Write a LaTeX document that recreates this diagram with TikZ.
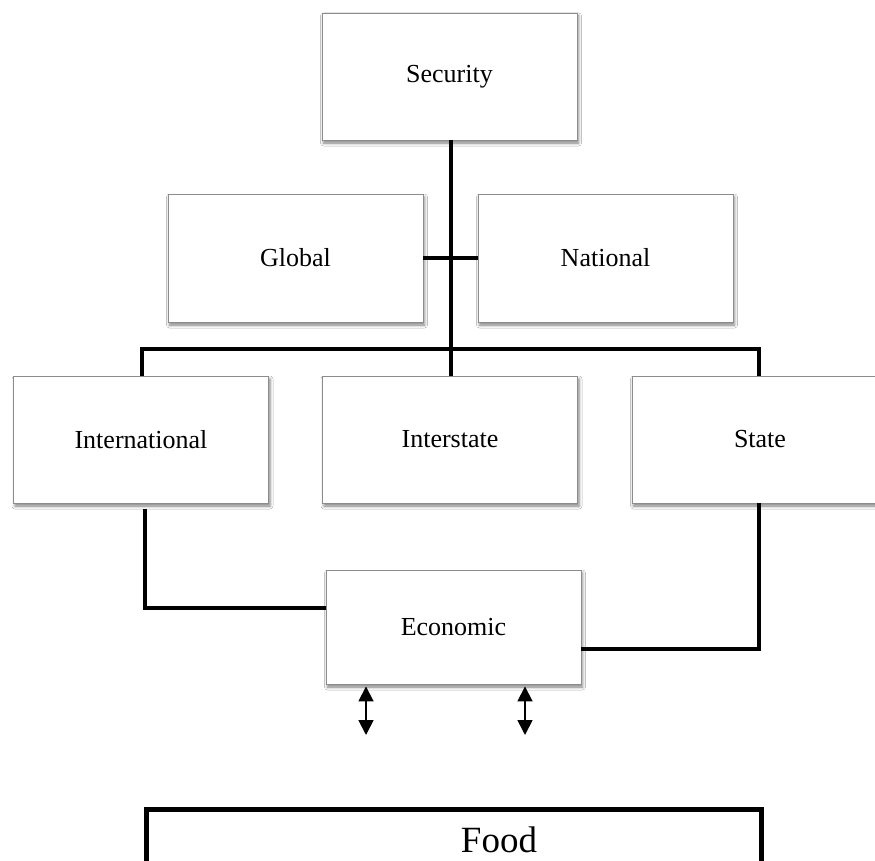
\documentclass[tikz,border=0pt]{standalone}
\usepackage{fontspec}
\setmainfont{Liberation Serif}
\usetikzlibrary{arrows.meta,shadows.blur}
\begin{document}
\begin{tikzpicture}[x=1pt,y=-1pt,
  box/.style={draw=black!45, line width=0.9pt, fill=white, rectangle, inner sep=0pt,
    minimum width=255pt, minimum height=127pt,
    font=\fontsize{26}{30}\selectfont,
    blur shadow={shadow xshift=1.5pt, shadow yshift=-3pt, shadow blur radius=3pt, shadow opacity=50}},
  conn/.style={draw=black, line width=4.5pt, line join=miter},
  dbl/.style={draw=black, line width=1.8pt, {Triangle[width=15pt,length=15pt]}-{Triangle[width=15pt,length=15pt]}},
  foodbox/.style={draw=black, line width=5pt, rectangle, inner sep=0pt, minimum width=615pt, minimum height=150pt},
  bigtext/.style={font=\fontsize{37}{42}\selectfont, inner sep=0pt}
]
\path[use as bounding box, clip] (0,0) rectangle (875,861);
\fill[white] (0,0) rectangle (875,861);

\coordinate (bus) at (0,349);
\coordinate (a1) at (366,735);
\coordinate (a2) at (525,735);

\node[box] (sec) at (449.5,76.5) {Security};
\node[box, minimum height=128pt] (glob) at (295.5,258) {Global};
\node[box, minimum height=128pt] (nat) at (605.5,258) {National};
\node[box] (intl) at (141,439.5) {International};
\node[box] (inter) at (450,439.5) {Interstate};
\node[box, minimum width=256pt] (state) at (760,439.5) {State};
\node[box, minimum height=114pt] (econ) at (453.5,627) {Economic};

\draw[conn] ([xshift=1.5pt]sec.south) -- ([xshift=1.5pt]sec.south |- inter.north);
\draw[conn] (glob.east) -- (nat.west);
\draw[conn] ([xshift=1pt]intl.north) |- (bus -| sec.south) -| ([xshift=-1pt]state.north);
\draw[conn] ([xshift=4pt,yshift=-6pt]intl.south) |- ([yshift=19pt]econ.west);
\draw[conn] ([xshift=-1pt]state.south) |- ([yshift=-22pt]econ.east);

\draw[dbl] ([xshift=-87.5pt,yshift=-2pt]econ.south) -- (a1);
\draw[dbl] ([xshift=71.5pt,yshift=-2pt]econ.south) -- (a2);

\node[foodbox, anchor=north west] (food) at (144,807) {};
\node[bigtext, anchor=base] (foodtxt) at (499,852) {Food};
\end{tikzpicture}
\end{document}
